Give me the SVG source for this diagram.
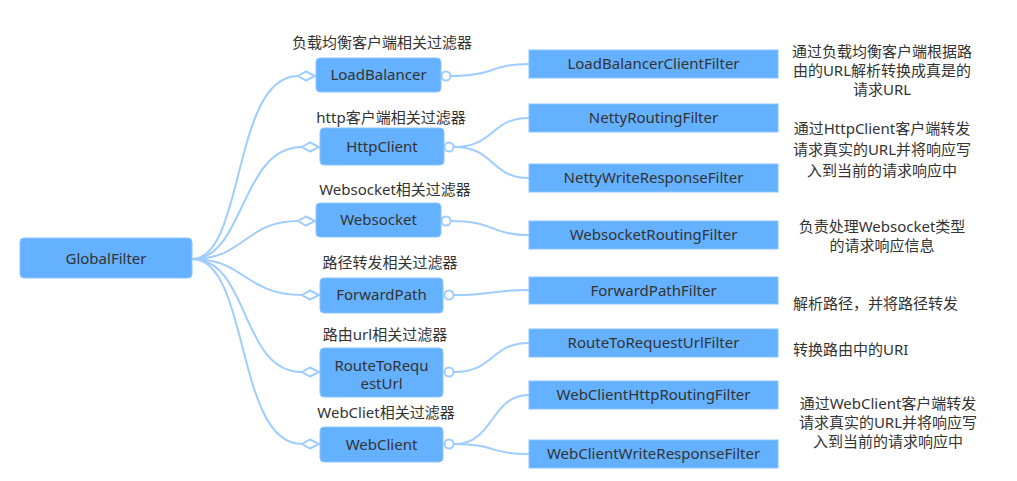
<svg xmlns="http://www.w3.org/2000/svg" width="1017" height="481" viewBox="0 0 1017 481">
<defs>
<style>
.bg{fill:#ffffff}
.node rect{fill:#64b1ff;stroke:#8cc4ff;stroke-width:1}
.t{font-family:"Noto Sans","Noto Sans CJK SC",sans-serif;font-size:15px;fill:#333333;text-anchor:middle}
.lbl{font-family:"Noto Sans","Noto Sans CJK SC",sans-serif;font-size:15px;fill:#333333;text-anchor:middle}
.d{font-family:"Noto Sans","Noto Sans CJK SC",sans-serif;font-size:15px;fill:#333333;text-anchor:middle}
.dl{font-family:"Noto Sans","Noto Sans CJK SC",sans-serif;font-size:15px;fill:#333333;text-anchor:start}
.c{fill:none;stroke:#9fcdff;stroke-width:2}
.dia{fill:#ffffff;stroke:#9fcdff;stroke-width:2}
.cir{fill:#ffffff;stroke:#9fcdff;stroke-width:2}
</style>
</defs>
<rect class="bg" x="0" y="0" width="1017" height="481"/>

<g id="connectors">
<path class="c" d="M192,259 C245,259 232,76 298,76"/>
<path class="c" d="M192,259 C245,259 240,147 302,147"/>
<path class="c" d="M192,259 C245,259 245,221 298,221"/>
<path class="c" d="M192,259 C245,259 245,295 302,295"/>
<path class="c" d="M192,259 C250,259 240,372 302,372"/>
<path class="c" d="M192,259 C250,259 235,444 302,444"/>
<polygon class="dia" points="298,76 306,71.5 315,76 306,80.5"/>
<polygon class="dia" points="302,147 310,142.5 319,147 310,151.5"/>
<polygon class="dia" points="298,221 306,216.5 315,221 306,225.5"/>
<polygon class="dia" points="302,295 310,290.5 319,295 310,299.5"/>
<polygon class="dia" points="302,372 310,367.5 319,372 310,376.5"/>
<polygon class="dia" points="302,444 310,439.5 319,444 310,448.5"/>

<path class="c" d="M450,76 C495,76 490,64 529,64"/>
<path class="c" d="M454,147 C495,147 490,118 529,118"/>
<path class="c" d="M454,147 C495,147 490,178 529,178"/>
<path class="c" d="M450,221 C495,221 490,235 529,235"/>
<path class="c" d="M454,295 C495,295 490,290 529,290"/>
<path class="c" d="M454,372 C495,372 490,343 529,343"/>
<path class="c" d="M454,444 C495,444 490,395 529,395"/>
<path class="c" d="M454,444 C495,444 490,454 529,454"/>
<circle class="cir" cx="446" cy="76" r="4.5"/>
<circle class="cir" cx="449" cy="147" r="4.5"/>
<circle class="cir" cx="446" cy="221" r="4.5"/>
<circle class="cir" cx="449" cy="295" r="4.5"/>
<circle class="cir" cx="449" cy="372" r="4.5"/>
<circle class="cir" cx="449" cy="444" r="4.5"/>
</g>

<g id="GlobalFilter" class="node">
<rect x="20" y="238" width="172" height="40" rx="4"/>
<text class="t" x="106" y="264">GlobalFilter</text>
</g>

<g id="LoadBalancer" class="node">
<text class="lbl" x="382" y="48">负载均衡客户端相关过滤器</text>
<rect x="316" y="58" width="125" height="34" rx="4"/>
<text class="t" x="378.5" y="80">LoadBalancer</text>
</g>
<g id="HttpClient" class="node">
<text class="lbl" x="391" y="123">http客户端相关过滤器</text>
<rect x="320" y="128" width="124" height="37" rx="4"/>
<text class="t" x="382" y="152">HttpClient</text>
</g>
<g id="Websocket" class="node">
<text class="lbl" x="395" y="195">Websocket相关过滤器</text>
<rect x="316" y="203" width="125" height="34" rx="4"/>
<text class="t" x="378.5" y="225">Websocket</text>
</g>
<g id="ForwardPath" class="node">
<text class="lbl" x="390" y="268">路径转发相关过滤器</text>
<rect x="320" y="278" width="123" height="35" rx="4"/>
<text class="t" x="381.5" y="300">ForwardPath</text>
</g>
<g id="RouteToRequestUrl" class="node">
<text class="lbl" x="385" y="340">路由url相关过滤器</text>
<rect x="320" y="348" width="123" height="49" rx="4"/>
<text class="t" x="381.5" y="371">RouteToRequ</text>
<text class="t" x="381.5" y="389">estUrl</text>
</g>
<g id="WebClient" class="node">
<text class="lbl" x="386" y="418">WebCliet相关过滤器</text>
<rect x="320" y="427" width="123" height="35" rx="4"/>
<text class="t" x="381.5" y="450">WebClient</text>
</g>

<g id="LoadBalancerClientFilter" class="node">
<rect x="529" y="50" width="249" height="28"/>
<text class="t" x="653.5" y="69">LoadBalancerClientFilter</text>
</g>
<g id="NettyRoutingFilter" class="node">
<rect x="529" y="104" width="249" height="28"/>
<text class="t" x="653.5" y="123">NettyRoutingFilter</text>
</g>
<g id="NettyWriteResponseFilter" class="node">
<rect x="529" y="164" width="249" height="28"/>
<text class="t" x="653.5" y="183">NettyWriteResponseFilter</text>
</g>
<g id="WebsocketRoutingFilter" class="node">
<rect x="529" y="221" width="249" height="28"/>
<text class="t" x="653.5" y="240">WebsocketRoutingFilter</text>
</g>
<g id="ForwardPathFilter" class="node">
<rect x="529" y="277" width="249" height="27"/>
<text class="t" x="653.5" y="296">ForwardPathFilter</text>
</g>
<g id="RouteToRequestUrlFilter" class="node">
<rect x="529" y="329" width="249" height="28"/>
<text class="t" x="653.5" y="348">RouteToRequestUrlFilter</text>
</g>
<g id="WebClientHttpRoutingFilter" class="node">
<rect x="529" y="381" width="249" height="28"/>
<text class="t" x="653.5" y="400">WebClientHttpRoutingFilter</text>
</g>
<g id="WebClientWriteResponseFilter" class="node">
<rect x="529" y="440" width="249" height="28"/>
<text class="t" x="653.5" y="459">WebClientWriteResponseFilter</text>
</g>

<g id="descriptions">
<text class="d" x="882" y="57">通过负载均衡客户端根据路</text>
<text class="d" x="882" y="76">由的URL解析转换成真是的</text>
<text class="d" x="882" y="95">请求URL</text>
<text class="d" x="882" y="134">通过HttpClient客户端转发</text>
<text class="d" x="882" y="155">请求真实的URL并将响应写</text>
<text class="d" x="882" y="176">入到当前的请求响应中</text>
<text class="d" x="882" y="232">负责处理Websocket类型</text>
<text class="d" x="882" y="251">的请求响应信息</text>
<text class="dl" x="793" y="309">解析路径，并将路径转发</text>
<text class="dl" x="793" y="355">转换路由中的URI</text>
<text class="d" x="888" y="409">通过WebClient客户端转发</text>
<text class="d" x="888" y="428">请求真实的URL并将响应写</text>
<text class="d" x="888" y="447">入到当前的请求响应中</text>
</g>
</svg>
